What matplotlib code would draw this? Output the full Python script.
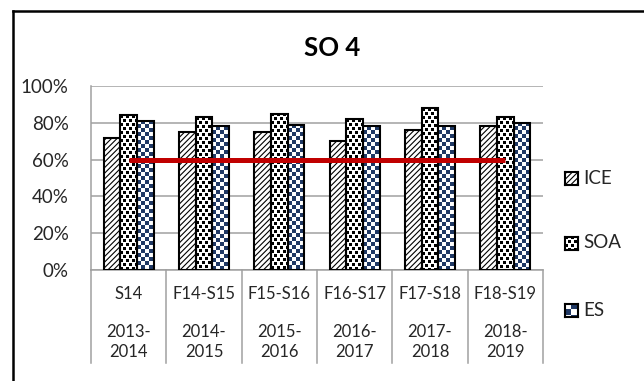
import numpy as np
import matplotlib.pyplot as plt
from matplotlib.colors import ListedColormap
from matplotlib.lines import Line2D
from matplotlib.patches import Rectangle
from matplotlib.transforms import blended_transform_factory

plt.rcParams['font.family'] = ['Lato', 'DejaVu Sans']
plt.rcParams['hatch.linewidth'] = 0.8

# chart data
terms = ['S14', 'F14-S15', 'F15-S16', 'F16-S17', 'F17-S18', 'F18-S19']
years = ['2013-\n2014', '2014-\n2015', '2015-\n2016', '2016-\n2017', '2017-\n2018', '2018-\n2019']
ice = [0.72, 0.75, 0.75, 0.70, 0.76, 0.78]
soa = [0.84, 0.83, 0.85, 0.82, 0.88, 0.83]
es = [0.81, 0.78, 0.79, 0.78, 0.78, 0.80]
target = [0.60, 0.60, 0.60, 0.60, 0.60, 0.60]

NAVY = '#1F3864'
GRID = '#A0A0A0'
TXT = '#262626'

W, H = 644, 381
L, R, T, B = 91, 543, 86, 270
fig = plt.figure(figsize=(W / 100, H / 100), dpi=100)
ax = fig.add_axes([L / W, 1 - B / H, (R - L) / W, (B - T) / H])

n = len(terms)
x = np.arange(n)
bw = 0.222
px_x = (R - L) / n   # pixels per category
px_y = B - T         # pixels per 100%


def checker(h_px, w_px, cell=4):
    i, j = np.indices((max(int(round(h_px)), 1), max(int(round(w_px)), 1)))
    return (i // cell + j // cell) % 2


def dots(h_px, w_px):
    i, j = np.indices((max(int(round(h_px)), 1), max(int(round(w_px)), 1)))
    a = (i % 8 < 3) & (j % 6 < 3)
    b = ((i + 4) % 8 < 3) & ((j + 3) % 6 < 3)
    return (a | b).astype(int)


dot_cmap = ListedColormap(['white', 'black'])
chk_cmap = ListedColormap(['white', NAVY])

ax.bar(x - bw, ice, bw, facecolor='white', edgecolor='black', hatch='//////',
       linewidth=0, zorder=2)
soa_bars = ax.bar(x, soa, bw, facecolor='white', linewidth=0, zorder=2)
es_bars = ax.bar(x + bw, es, bw, facecolor=NAVY, linewidth=0, zorder=2)

for bars, fn, cmap in [(soa_bars, dots, dot_cmap), (es_bars, checker, chk_cmap)]:
    for rect in bars:
        x0, w, h = rect.get_x(), rect.get_width(), rect.get_height()
        arr = fn(h * px_y, w * px_x)
        im = ax.imshow(arr, extent=(x0, x0 + w, 0, h), cmap=cmap, vmin=0, vmax=1,
                       interpolation='nearest', aspect='auto', zorder=2.5)
        im.set_clip_path(rect)

# outlines
for off, vals in [(-bw, ice), (0, soa), (bw, es)]:
    ax.bar(x + off, vals, bw, facecolor='none', edgecolor='black',
           linewidth=1.5, zorder=3)

ax.plot(x, target, color='#C00000', linewidth=3.6, solid_capstyle='butt', zorder=4)

ax.set_xlim(-0.5, n - 0.5)
ax.set_ylim(0, 1)
ax.set_yticks(np.arange(0, 1.01, 0.2))
ax.set_yticklabels([f'{int(round(v * 100))}%' for v in np.arange(0, 1.01, 0.2)],
                   fontsize=13.5, color=TXT)
ax.tick_params(axis='y', length=0, pad=16)
ax.set_xticks([])
ax.yaxis.grid(True, color=GRID, linewidth=1.1)
ax.set_axisbelow(True)
for s in ['top', 'right']:
    ax.spines[s].set_visible(False)
for s in ['left', 'bottom']:
    ax.spines[s].set_color(GRID)
    ax.spines[s].set_linewidth(1.1)

# multi-level category axis
tr = blended_transform_factory(ax.transData, ax.transAxes)
depth = (363 - B) / px_y
for b in np.arange(-0.5, n, 1.0):
    ax.plot([b, b], [0, -depth], color=GRID, linewidth=1.1, transform=tr,
            clip_on=False)
for i in range(n):
    ax.text(x[i], (B - 294) / px_y, terms[i], transform=tr, ha='center',
            va='center', fontsize=12, color=TXT)
    ax.text(x[i], (B - 342) / px_y, years[i], transform=tr, ha='center',
            va='center', fontsize=12, color=TXT, linespacing=1.25)

fig.text(332 / W, 1 - 48 / H, 'SO 4', ha='center', va='center',
         fontsize=18.5, fontweight='bold', color='black')

# legend
labels = ['ICE', 'SOA', 'ES']
rows = [178, 243, 310]
for lab, yc in zip(labels, rows):
    lax = fig.add_axes([565 / W, 1 - (yc + 6.5) / H, 13 / W, 13 / H])
    lax.set_xticks([])
    lax.set_yticks([])
    for sp in lax.spines.values():
        sp.set_linewidth(1.5)
        sp.set_color('black')
    if lab == 'ICE':
        lax.add_patch(Rectangle((0, 0), 1, 1, facecolor='white', edgecolor='black',
                                hatch='//////', linewidth=0, transform=lax.transAxes))
    elif lab == 'SOA':
        lax.imshow(dots(13, 13), cmap=dot_cmap, vmin=0, vmax=1,
                   interpolation='nearest', aspect='auto')
    else:
        lax.imshow(checker(13, 13, cell=6), cmap=chk_cmap, vmin=0, vmax=1,
                   interpolation='nearest', aspect='auto')
    fig.text(583 / W, 1 - yc / H, lab, ha='left', va='center', fontsize=13.5,
             color=TXT)

# outer frame (only top and left edges show)
fig.add_artist(Line2D([13 / W, 1], [1 - 10.5 / H, 1 - 10.5 / H], color='black',
                      linewidth=1.8, transform=fig.transFigure))
fig.add_artist(Line2D([13 / W, 13 / W], [0, 1 - 10.5 / H], color='black',
                      linewidth=1.8, transform=fig.transFigure))

fig.savefig('out.png', dpi=100)
